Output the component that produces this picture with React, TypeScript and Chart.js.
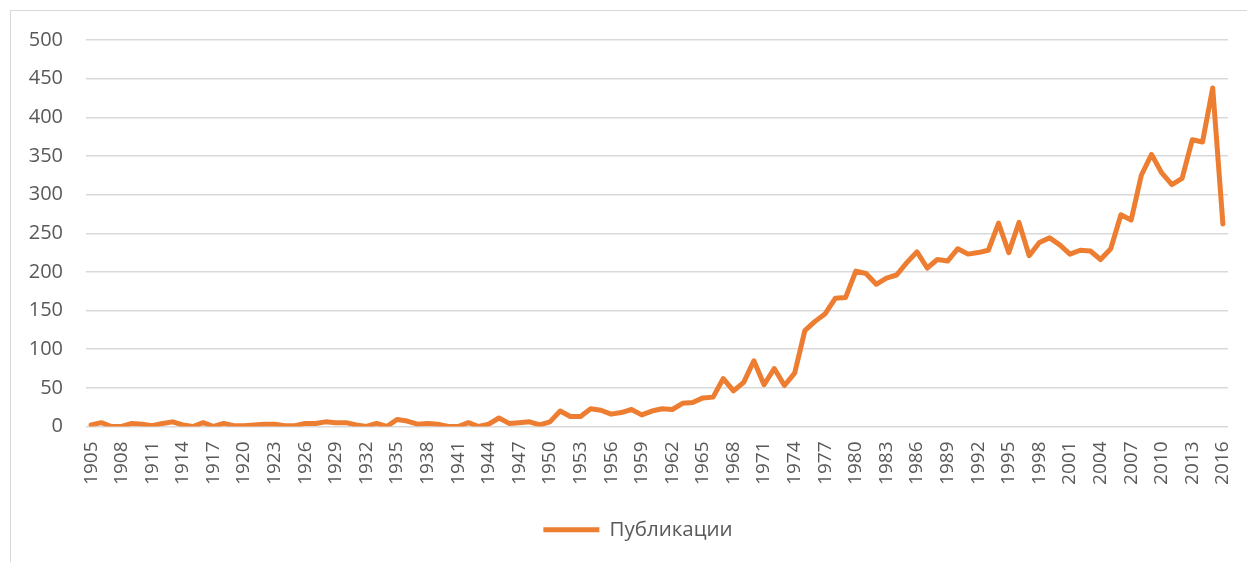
import React, { useEffect, useRef } from "react";
import { Chart, registerables } from "chart.js";

Chart.register(...registerables);

const FIRST_YEAR = 1905;
const LAST_YEAR = 2016;
const years: string[] = Array.from({ length: LAST_YEAR - FIRST_YEAR + 1 }, (_, i) => String(FIRST_YEAR + i));

const seriesName = "Публикации";
// 1905 - 2016
const publications: number[] = [
  2, 5, 0, 0, 4, 3, 1, 4, 6, 2, // 1905-1914
  0, 5, 0, 4, 1, 1, 2, 3, 3, 1, // 1915-1924
  1, 4, 4, 6, 5, 5, 2, 0, 4, 0, // 1925-1934
  9, 7, 3, 4, 3, 0, 0, 5, 0, 3, // 1935-1944
  11, 4, 5, 6, 2, 6, 20, 13, 13, 23, // 1945-1954
  21, 16, 18, 22, 15, 20, 23, 22, 30, 31, // 1955-1964
  37, 38, 62, 46, 57, 85, 54, 75, 53, 69, // 1965-1974
  124, 136, 146, 166, 167, 201, 198, 184, 192, 196, // 1975-1984
  212, 226, 205, 216, 214, 230, 223, 225, 228, 263, // 1985-1994
  225, 264, 221, 238, 244, 235, 223, 228, 227, 216, // 1995-2004
  230, 274, 267, 325, 352, 328, 313, 321, 371, 368, // 2005-2014
  438, 262, // 2015-2016
];

const yMax = 500;
const yStep = 50;

const ORANGE = "#ED7D31";
const TEXT = "#595959";
const GRID = "#d9d9d9";
const FONT = "'Open Sans', 'DejaVu Sans', sans-serif";

const legendShift = {
  id: "legendShift",
  afterLayout(chart: any) {
    const lg = chart.legend;
    if (lg) {
      lg.left += 24;
      lg.right += 24;
    }
  },
};

export default function App() {
  const ref = useRef<HTMLCanvasElement | null>(null);

  useEffect(() => {
    document.body.style.overflow = "hidden";
    const canvas = ref.current;
    if (!canvas) return;
    const chart = new Chart(canvas, {
      type: "line",
      data: {
        labels: years,
        datasets: [
          {
            label: seriesName,
            data: publications,
            borderColor: ORANGE,
            backgroundColor: ORANGE,
            borderWidth: 5,
            pointRadius: 0,
            tension: 0,
            borderJoinStyle: "round",
            borderCapStyle: "round",
            fill: false,
          },
        ],
      },
      plugins: [legendShift],
      options: {
        animation: false,
        responsive: false,
        maintainAspectRatio: false,
        layout: { padding: { top: 40, right: 19, bottom: 12, left: 0 } },
        plugins: {
          tooltip: { enabled: false },
          legend: {
            display: true,
            position: "bottom",
            labels: {
              color: TEXT,
              font: { family: FONT, size: 20.5 },
              boxWidth: 56,
              boxHeight: 5,
              padding: 10,
              generateLabels: () => [
                {
                  text: seriesName,
                  fillStyle: ORANGE,
                  strokeStyle: ORANGE,
                  lineWidth: 0,
                  hidden: false,
                  datasetIndex: 0,
                  fontColor: TEXT,
                },
              ],
            },
          },
        },
        scales: {
          x: {
            type: "category",
            offset: true,
            grid: { display: false, drawTicks: false },
            border: { display: false },
            afterFit: (scale: any) => {
              scale.height = 83;
              scale.paddingRight = 0;
              scale.paddingLeft = 0;
            },
            ticks: {
              autoSkip: false,
              maxRotation: 90,
              minRotation: 90,
              padding: 15,
              color: TEXT,
              font: { family: FONT, size: 19 },
              callback: (_v: any, i: number) => (i % 3 === 0 ? years[i] : ""),
            },
          },
          y: {
            min: 0,
            max: yMax,
            grid: { color: GRID, lineWidth: 1.5, drawTicks: false },
            border: { display: false },
            afterFit: (scale: any) => {
              scale.width = 86;
            },
            ticks: {
              stepSize: yStep,
              padding: 23,
              color: TEXT,
              font: { family: FONT, size: 20 },
            },
          },
        },
      },
    });
    return () => chart.destroy();
  }, []);

  return (
    <div style={{ position: "fixed", left: 0, top: 0, width: 1247, height: 562, background: "#fff", overflow: "hidden" }}>
      <div
        style={{
          position: "absolute",
          left: 10,
          top: 10,
          width: 1300,
          height: 600,
          border: "1px solid #d9d9d9",
        }}
      />
      <canvas ref={ref} width={1247} height={562} style={{ position: "absolute", left: 0, top: 0, width: 1247, height: 562 }} />
    </div>
  );
}
